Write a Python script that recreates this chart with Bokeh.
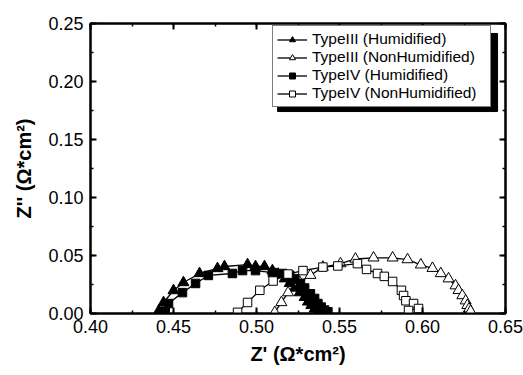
from bokeh.plotting import figure
from bokeh.models import (LinearAxis, SingleIntervalTicker, NumeralTickFormatter,
                          Legend, LegendItem, Range1d)
from bokeh.embed import file_html
from bokeh.resources import INLINE

# --- data ---
x_iii_h = [0.441, 0.444, 0.450, 0.456, 0.4657, 0.4765, 0.4807, 0.4946, 0.4994, 0.5048, 0.5096,
           0.513, 0.517, 0.520, 0.523, 0.526, 0.529, 0.531, 0.533, 0.535, 0.537]
y_iii_h = [0.002, 0.0095, 0.0198, 0.0267, 0.0345, 0.0388, 0.0405, 0.0422, 0.0405, 0.0405, 0.037,
           0.034, 0.030, 0.026, 0.022, 0.018, 0.014, 0.010, 0.007, 0.004, 0.002]

x_iii_n = [0.511, 0.515, 0.519, 0.526, 0.5325, 0.540, 0.5506, 0.5596, 0.5705, 0.582, 0.591,
           0.599, 0.606, 0.611, 0.6157, 0.6199, 0.6217, 0.624, 0.626, 0.627, 0.628, 0.629]
y_iii_n = [0.001, 0.0095, 0.018, 0.027, 0.033, 0.040, 0.043, 0.047, 0.048, 0.048, 0.0465,
           0.042, 0.039, 0.0345, 0.030, 0.024, 0.020, 0.0155, 0.011, 0.007, 0.004, 0.002]

x_iv_h = [0.445, 0.447, 0.4554, 0.4633, 0.471, 0.4855, 0.4916, 0.4994, 0.5096, 0.5157,
          0.520, 0.523, 0.5265, 0.529, 0.5325, 0.535, 0.537, 0.539, 0.541, 0.543]
y_iv_h = [0.002, 0.0086, 0.018, 0.0259, 0.0328, 0.0345, 0.037, 0.037, 0.0353, 0.0345,
          0.033, 0.030, 0.026, 0.022, 0.017, 0.013, 0.0086, 0.0055, 0.003, 0.0015]

x_iv_n = [0.4886, 0.4946, 0.502, 0.510, 0.519, 0.528, 0.540, 0.549, 0.5608, 0.5663, 0.5729,
          0.577, 0.582, 0.5873, 0.5886, 0.590, 0.5946, 0.5976, 0.5916]
y_iv_n = [0.001, 0.0095, 0.020, 0.028, 0.034, 0.037, 0.040, 0.041, 0.043, 0.038, 0.0345,
          0.032, 0.0276, 0.020, 0.0155, 0.011, 0.0086, 0.0043, 0.0026]

labels = ["TypeIII (Humidified)", "TypeIII (NonHumidified)",
          "TypeIV (Humidified)", "TypeIV (NonHumidified)"]

FONT = "Liberation Sans"

p = figure(width=523, height=375, output_backend="svg", toolbar_location=None,
           x_range=Range1d(0.40, 0.65), y_range=Range1d(0.0, 0.25),
           min_border_left=90, min_border_right=18, min_border_top=23, min_border_bottom=62)
p.xgrid.visible = False
p.ygrid.visible = False
p.outline_line_color = "black"
p.outline_line_width = 2
p.background_fill_color = "white"
p.border_fill_color = "white"

# legend shadow (behind the legend box)
p.quad(left=[0.5127], right=[0.6452], top=[0.2414], bottom=[0.1741],
       fill_color="black", line_color="black")

items = []
series = [
    (x_iii_h, y_iii_h, "triangle", "black", 11),
    (x_iii_n, y_iii_n, "triangle", "white", 11),
    (x_iv_h, y_iv_h, "square", "black", 8.5),
    (x_iv_n, y_iv_n, "square", "white", 8.5),
]
for (xs, ys, marker, fill, size), lab in zip(series, labels):
    r1 = p.line(xs, ys, line_color="black", line_width=1.3)
    r2 = p.scatter(xs, ys, marker=marker, size=size, fill_color=fill,
                   line_color="black", line_width=1)
    items.append(LegendItem(label=lab, renderers=[r1, r2]))

legend = Legend(items=items, location=(182, 206))
legend.label_text_font = FONT
legend.label_text_font_size = "15.5px"
legend.label_text_color = "black"
legend.border_line_color = "black"
legend.border_line_width = 1.5
legend.background_fill_color = "white"
legend.background_fill_alpha = 1
legend.glyph_width = 30
legend.glyph_height = 15
legend.label_height = 15
legend.label_width = 174
legend.spacing = 0
legend.padding = 4
legend.margin = 0
legend.label_standoff = 5
p.add_layout(legend)

def style(ax, show_labels=True):
    ax.axis_line_width = 2
    ax.axis_line_color = "black"
    ax.major_tick_in = 6
    ax.major_tick_out = 0
    ax.minor_tick_in = 3
    ax.minor_tick_out = 0
    ax.major_tick_line_width = 2
    ax.minor_tick_line_width = 1.5
    ax.major_label_text_font = FONT
    ax.major_label_text_font_size = "18px"
    ax.major_label_text_color = "black"
    ax.axis_label_text_font = FONT
    ax.axis_label_text_font_size = "20px"
    ax.axis_label_text_font_style = "bold"
    ax.axis_label_text_color = "black"
    ax.formatter = NumeralTickFormatter(format="0.00")
    if not show_labels:
        ax.major_label_text_font_size = "0px"
        ax.major_label_text_color = None

xa = p.xaxis[0]
xa.ticker = SingleIntervalTicker(interval=0.05, num_minor_ticks=2)
style(xa)
xa.axis_label = "Z' (Ω*cm²)"
xa.major_label_standoff = 6
xa.axis_label_standoff = 7

ya = p.yaxis[0]
ya.ticker = SingleIntervalTicker(interval=0.05, num_minor_ticks=2)
style(ya)
ya.axis_label = "Z'' (Ω*cm²)"
ya.major_label_standoff = 7
ya.axis_label_standoff = 10

top = LinearAxis(ticker=SingleIntervalTicker(interval=0.05, num_minor_ticks=2))
style(top, False)
p.add_layout(top, "above")
right = LinearAxis(ticker=SingleIntervalTicker(interval=0.05, num_minor_ticks=2))
style(right, False)
p.add_layout(right, "right")

open("out.html", "w").write(file_html(p, INLINE))
